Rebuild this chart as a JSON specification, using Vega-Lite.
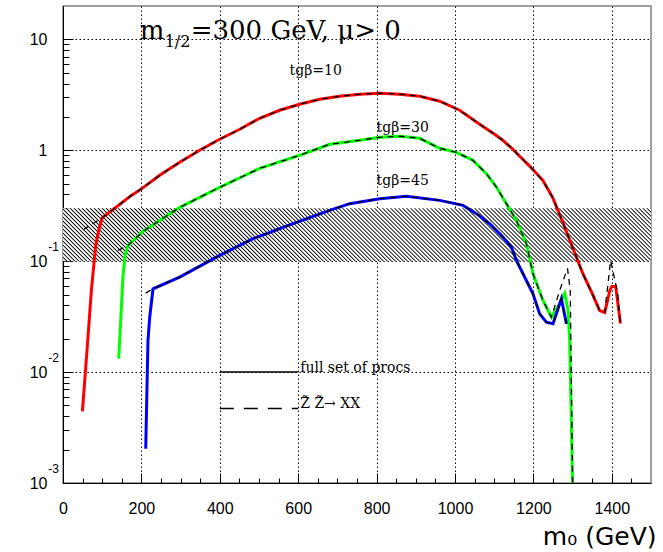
{
"$schema":"https://vega.github.io/schema/vega-lite/v6.json",
"width":588,"height":477,
"autosize":{"type":"none"},
"padding":{"left":63,"top":6,"right":12,"bottom":69},
"background":"white",
"config":{"view":{"stroke":"#808080","strokeWidth":1.5},"axis":{"labelColor":"#000","tickColor":"#000","domainColor":"#000"}},
"resolve":{"axis":{"x":"independent","y":"independent"}},
"datasets":{
"full":[
{"tb":"10","m0":49.5,"v":0.00443},{"tb":"10","m0":61.2,"v":0.0156},{"tb":"10","m0":72.4,"v":0.0545},{"tb":"10","m0":83.4,"v":0.139},{"tb":"10","m0":91.1,"v":0.19},{"tb":"10","m0":100,"v":0.246},{"tb":"10","m0":131.9,"v":0.3},{"tb":"10","m0":174.5,"v":0.392},{"tb":"10","m0":200.8,"v":0.451},{"tb":"10","m0":246.7,"v":0.595},{"tb":"10","m0":297.7,"v":0.779},{"tb":"10","m0":348.7,"v":1.0},{"tb":"10","m0":399.7,"v":1.257},{"tb":"10","m0":450.8,"v":1.547},{"tb":"10","m0":501.8,"v":1.945},{"tb":"10","m0":552.8,"v":2.297},{"tb":"10","m0":603.8,"v":2.602},{"tb":"10","m0":654.8,"v":2.887},{"tb":"10","m0":705.9,"v":3.073},{"tb":"10","m0":756.9,"v":3.204},{"tb":"10","m0":807.9,"v":3.271},{"tb":"10","m0":858.9,"v":3.204},{"tb":"10","m0":909.9,"v":3.073},{"tb":"10","m0":961,"v":2.77},{"tb":"10","m0":1012,"v":2.297},{"tb":"10","m0":1063,"v":1.717},{"tb":"10","m0":1101,"v":1.395},{"tb":"10","m0":1122,"v":1.231},{"tb":"10","m0":1145,"v":1.042},{"tb":"10","m0":1165,"v":0.883},{"tb":"10","m0":1191,"v":0.717},{"tb":"10","m0":1224,"v":0.536},{"tb":"10","m0":1249,"v":0.376},{"tb":"10","m0":1275,"v":0.224},{"tb":"10","m0":1300,"v":0.133},{"tb":"10","m0":1326,"v":0.0775},{"tb":"10","m0":1351,"v":0.0501},{"tb":"10","m0":1369,"v":0.0359},{"tb":"10","m0":1382,"v":0.0345},{"tb":"10","m0":1395,"v":0.0544},{"tb":"10","m0":1400,"v":0.0592},{"tb":"10","m0":1410,"v":0.0592},{"tb":"10","m0":1422,"v":0.0274},
{"tb":"30","m0":142.1,"v":0.01324},{"tb":"30","m0":153.1,"v":0.0743},{"tb":"30","m0":158.7,"v":0.1151},{"tb":"30","m0":165.8,"v":0.1387},{"tb":"30","m0":204.1,"v":0.1856},{"tb":"30","m0":246.7,"v":0.2333},{"tb":"30","m0":297.7,"v":0.3057},{"tb":"30","m0":399.7,"v":0.4634},{"tb":"30","m0":501.8,"v":0.6878},{"tb":"30","m0":603.8,"v":0.9012},{"tb":"30","m0":680.4,"v":1.133},{"tb":"30","m0":756.9,"v":1.231},{"tb":"30","m0":807.9,"v":1.31},{"tb":"30","m0":858.9,"v":1.338},{"tb":"30","m0":909.9,"v":1.283},{"tb":"30","m0":961,"v":1.042},{"tb":"30","m0":1003.6,"v":0.959},{"tb":"30","m0":1045.9,"v":0.812},{"tb":"30","m0":1080.1,"v":0.616},{"tb":"30","m0":1105.6,"v":0.466},{"tb":"30","m0":1131.1,"v":0.33},{"tb":"30","m0":1156.6,"v":0.233},{"tb":"30","m0":1182.1,"v":0.1437},{"tb":"30","m0":1199,"v":0.077},{"tb":"30","m0":1224.5,"v":0.0442},{"tb":"30","m0":1245.9,"v":0.03125},{"tb":"30","m0":1267.1,"v":0.04155},{"tb":"30","m0":1279.8,"v":0.05115},{"tb":"30","m0":1288.3,"v":0.0359},{"tb":"30","m0":1292.6,"v":0.01925},{"tb":"30","m0":1300.3,"v":0.00085},
{"tb":"45","m0":211,"v":0.00204},{"tb":"45","m0":216.8,"v":0.01925},{"tb":"45","m0":221.2,"v":0.03125},{"tb":"45","m0":229.6,"v":0.0564},{"tb":"45","m0":297.7,"v":0.0718},{"tb":"45","m0":391.3,"v":0.1088},{"tb":"45","m0":484.7,"v":0.1595},{"tb":"45","m0":586.7,"v":0.2178},{"tb":"45","m0":680.4,"v":0.2872},{"tb":"45","m0":731.4,"v":0.3302},{"tb":"45","m0":807.9,"v":0.3664},{"tb":"45","m0":876,"v":0.3844},{"tb":"45","m0":961,"v":0.3536},{"tb":"45","m0":1020.4,"v":0.3187},{"tb":"45","m0":1054.6,"v":0.2683},{"tb":"45","m0":1088.5,"v":0.2178},{"tb":"45","m0":1122.4,"v":0.1649},{"tb":"45","m0":1143.9,"v":0.1339},{"tb":"45","m0":1156.6,"v":0.1016},{"tb":"45","m0":1173.5,"v":0.077},{"tb":"45","m0":1199,"v":0.0508},{"tb":"45","m0":1216,"v":0.0335},{"tb":"45","m0":1233.2,"v":0.02817},{"tb":"45","m0":1250,"v":0.02724},{"tb":"45","m0":1271.4,"v":0.0458},{"tb":"45","m0":1284.2,"v":0.02724}
],
"zz":[
{"tb":"10","m0":51,"v":0.192},{"tb":"10","m0":100,"v":0.246},{"tb":"10","m0":131.9,"v":0.3},{"tb":"10","m0":174.5,"v":0.392},{"tb":"10","m0":200.8,"v":0.451},{"tb":"10","m0":246.7,"v":0.595},{"tb":"10","m0":297.7,"v":0.779},{"tb":"10","m0":348.7,"v":1.0},{"tb":"10","m0":399.7,"v":1.257},{"tb":"10","m0":450.8,"v":1.547},{"tb":"10","m0":501.8,"v":1.945},{"tb":"10","m0":552.8,"v":2.297},{"tb":"10","m0":603.8,"v":2.602},{"tb":"10","m0":654.8,"v":2.887},{"tb":"10","m0":705.9,"v":3.073},{"tb":"10","m0":756.9,"v":3.204},{"tb":"10","m0":807.9,"v":3.271},{"tb":"10","m0":858.9,"v":3.204},{"tb":"10","m0":909.9,"v":3.073},{"tb":"10","m0":961,"v":2.77},{"tb":"10","m0":1012,"v":2.297},{"tb":"10","m0":1063,"v":1.717},{"tb":"10","m0":1101,"v":1.395},{"tb":"10","m0":1122,"v":1.231},{"tb":"10","m0":1145,"v":1.042},{"tb":"10","m0":1165,"v":0.883},{"tb":"10","m0":1191,"v":0.717},{"tb":"10","m0":1224,"v":0.536},{"tb":"10","m0":1249,"v":0.376},{"tb":"10","m0":1275,"v":0.224},{"tb":"10","m0":1300,"v":0.133},{"tb":"10","m0":1326,"v":0.0775},{"tb":"10","m0":1351,"v":0.0501},{"tb":"10","m0":1369,"v":0.0359},{"tb":"10","m0":1382,"v":0.0345},{"tb":"10","m0":1397,"v":0.1016},{"tb":"10","m0":1415,"v":0.0511},{"tb":"10","m0":1422,"v":0.0274},
{"tb":"30","m0":140.3,"v":0.125},{"tb":"30","m0":165.8,"v":0.1387},{"tb":"30","m0":204.1,"v":0.1856},{"tb":"30","m0":246.7,"v":0.2333},{"tb":"30","m0":297.7,"v":0.3057},{"tb":"30","m0":399.7,"v":0.4634},{"tb":"30","m0":501.8,"v":0.6878},{"tb":"30","m0":603.8,"v":0.9012},{"tb":"30","m0":680.4,"v":1.133},{"tb":"30","m0":756.9,"v":1.231},{"tb":"30","m0":807.9,"v":1.31},{"tb":"30","m0":858.9,"v":1.338},{"tb":"30","m0":909.9,"v":1.283},{"tb":"30","m0":961,"v":1.042},{"tb":"30","m0":1003.6,"v":0.959},{"tb":"30","m0":1045.9,"v":0.812},{"tb":"30","m0":1080.1,"v":0.616},{"tb":"30","m0":1105.6,"v":0.466},{"tb":"30","m0":1131.1,"v":0.33},{"tb":"30","m0":1156.6,"v":0.233},{"tb":"30","m0":1182.1,"v":0.1437},{"tb":"30","m0":1199,"v":0.077},{"tb":"30","m0":1224.5,"v":0.0442},{"tb":"30","m0":1245.9,"v":0.03125},{"tb":"30","m0":1267,"v":0.0544},{"tb":"30","m0":1287,"v":0.086},{"tb":"30","m0":1294,"v":0.055},{"tb":"30","m0":1300.3,"v":0.00085},
{"tb":"45","m0":211,"v":0.0515},{"tb":"45","m0":229.6,"v":0.0564},{"tb":"45","m0":297.7,"v":0.0718},{"tb":"45","m0":391.3,"v":0.1088},{"tb":"45","m0":484.7,"v":0.1595},{"tb":"45","m0":586.7,"v":0.2178},{"tb":"45","m0":680.4,"v":0.2872},{"tb":"45","m0":731.4,"v":0.3302},{"tb":"45","m0":807.9,"v":0.3664},{"tb":"45","m0":876,"v":0.3844},{"tb":"45","m0":961,"v":0.3536},{"tb":"45","m0":1020.4,"v":0.3187},{"tb":"45","m0":1054.6,"v":0.2683},{"tb":"45","m0":1088.5,"v":0.2178},{"tb":"45","m0":1122.4,"v":0.1649},{"tb":"45","m0":1143.9,"v":0.1339},{"tb":"45","m0":1156.6,"v":0.1016},{"tb":"45","m0":1173.5,"v":0.077},{"tb":"45","m0":1199,"v":0.0508},{"tb":"45","m0":1216,"v":0.0335},{"tb":"45","m0":1233.2,"v":0.02817},{"tb":"45","m0":1250,"v":0.02724},{"tb":"45","m0":1271.4,"v":0.0458},{"tb":"45","m0":1284.2,"v":0.02724}
]},
"layer":[
{"data":{"values":[{"x0":0,"x1":1500,"lo":0.1,"hi":0.3}]},
 "mark":{"type":"rect","filled":true,"fill":{"gradient":"linear","x1":0,"y1":1,"x2":1.0813,"y2":0.9027,"stops":[
{"offset":0,"color":"#000"},{"offset":0.002,"color":"#fff"},{"offset":0.00425,"color":"#fff"},{"offset":0.00625,"color":"#000"},{"offset":0.00825,"color":"#fff"},{"offset":0.0105,"color":"#fff"},{"offset":0.0125,"color":"#000"},{"offset":0.0145,"color":"#fff"},{"offset":0.01675,"color":"#fff"},{"offset":0.01875,"color":"#000"},{"offset":0.02075,"color":"#fff"},{"offset":0.023,"color":"#fff"},{"offset":0.025,"color":"#000"},{"offset":0.027,"color":"#fff"},{"offset":0.02925,"color":"#fff"},{"offset":0.03125,"color":"#000"},{"offset":0.03325,"color":"#fff"},{"offset":0.0355,"color":"#fff"},{"offset":0.0375,"color":"#000"},{"offset":0.0395,"color":"#fff"},{"offset":0.04175,"color":"#fff"},{"offset":0.04375,"color":"#000"},{"offset":0.04575,"color":"#fff"},{"offset":0.048,"color":"#fff"},
{"offset":0.05,"color":"#000"},{"offset":0.052,"color":"#fff"},{"offset":0.05425,"color":"#fff"},{"offset":0.05625,"color":"#000"},{"offset":0.05825,"color":"#fff"},{"offset":0.0605,"color":"#fff"},{"offset":0.0625,"color":"#000"},{"offset":0.0645,"color":"#fff"},{"offset":0.06675,"color":"#fff"},{"offset":0.06875,"color":"#000"},{"offset":0.07075,"color":"#fff"},{"offset":0.073,"color":"#fff"},{"offset":0.075,"color":"#000"},{"offset":0.077,"color":"#fff"},{"offset":0.07925,"color":"#fff"},{"offset":0.08125,"color":"#000"},{"offset":0.08325,"color":"#fff"},{"offset":0.0855,"color":"#fff"},{"offset":0.0875,"color":"#000"},{"offset":0.0895,"color":"#fff"},{"offset":0.09175,"color":"#fff"},{"offset":0.09375,"color":"#000"},{"offset":0.09575,"color":"#fff"},{"offset":0.098,"color":"#fff"},
{"offset":0.1,"color":"#000"},{"offset":0.102,"color":"#fff"},{"offset":0.10425,"color":"#fff"},{"offset":0.10625,"color":"#000"},{"offset":0.10825,"color":"#fff"},{"offset":0.1105,"color":"#fff"},{"offset":0.1125,"color":"#000"},{"offset":0.1145,"color":"#fff"},{"offset":0.11675,"color":"#fff"},{"offset":0.11875,"color":"#000"},{"offset":0.12075,"color":"#fff"},{"offset":0.123,"color":"#fff"},{"offset":0.125,"color":"#000"},{"offset":0.127,"color":"#fff"},{"offset":0.12925,"color":"#fff"},{"offset":0.13125,"color":"#000"},{"offset":0.13325,"color":"#fff"},{"offset":0.1355,"color":"#fff"},{"offset":0.1375,"color":"#000"},{"offset":0.1395,"color":"#fff"},{"offset":0.14175,"color":"#fff"},{"offset":0.14375,"color":"#000"},{"offset":0.14575,"color":"#fff"},{"offset":0.148,"color":"#fff"},
{"offset":0.15,"color":"#000"},{"offset":0.152,"color":"#fff"},{"offset":0.15425,"color":"#fff"},{"offset":0.15625,"color":"#000"},{"offset":0.15825,"color":"#fff"},{"offset":0.1605,"color":"#fff"},{"offset":0.1625,"color":"#000"},{"offset":0.1645,"color":"#fff"},{"offset":0.16675,"color":"#fff"},{"offset":0.16875,"color":"#000"},{"offset":0.17075,"color":"#fff"},{"offset":0.173,"color":"#fff"},{"offset":0.175,"color":"#000"},{"offset":0.177,"color":"#fff"},{"offset":0.17925,"color":"#fff"},{"offset":0.18125,"color":"#000"},{"offset":0.18325,"color":"#fff"},{"offset":0.1855,"color":"#fff"},{"offset":0.1875,"color":"#000"},{"offset":0.1895,"color":"#fff"},{"offset":0.19175,"color":"#fff"},{"offset":0.19375,"color":"#000"},{"offset":0.19575,"color":"#fff"},{"offset":0.198,"color":"#fff"},
{"offset":0.2,"color":"#000"},{"offset":0.202,"color":"#fff"},{"offset":0.20425,"color":"#fff"},{"offset":0.20625,"color":"#000"},{"offset":0.20825,"color":"#fff"},{"offset":0.2105,"color":"#fff"},{"offset":0.2125,"color":"#000"},{"offset":0.2145,"color":"#fff"},{"offset":0.21675,"color":"#fff"},{"offset":0.21875,"color":"#000"},{"offset":0.22075,"color":"#fff"},{"offset":0.223,"color":"#fff"},{"offset":0.225,"color":"#000"},{"offset":0.227,"color":"#fff"},{"offset":0.22925,"color":"#fff"},{"offset":0.23125,"color":"#000"},{"offset":0.23325,"color":"#fff"},{"offset":0.2355,"color":"#fff"},{"offset":0.2375,"color":"#000"},{"offset":0.2395,"color":"#fff"},{"offset":0.24175,"color":"#fff"},{"offset":0.24375,"color":"#000"},{"offset":0.24575,"color":"#fff"},{"offset":0.248,"color":"#fff"},
{"offset":0.25,"color":"#000"},{"offset":0.252,"color":"#fff"},{"offset":0.25425,"color":"#fff"},{"offset":0.25625,"color":"#000"},{"offset":0.25825,"color":"#fff"},{"offset":0.2605,"color":"#fff"},{"offset":0.2625,"color":"#000"},{"offset":0.2645,"color":"#fff"},{"offset":0.26675,"color":"#fff"},{"offset":0.26875,"color":"#000"},{"offset":0.27075,"color":"#fff"},{"offset":0.273,"color":"#fff"},{"offset":0.275,"color":"#000"},{"offset":0.277,"color":"#fff"},{"offset":0.27925,"color":"#fff"},{"offset":0.28125,"color":"#000"},{"offset":0.28325,"color":"#fff"},{"offset":0.2855,"color":"#fff"},{"offset":0.2875,"color":"#000"},{"offset":0.2895,"color":"#fff"},{"offset":0.29175,"color":"#fff"},{"offset":0.29375,"color":"#000"},{"offset":0.29575,"color":"#fff"},{"offset":0.298,"color":"#fff"},
{"offset":0.3,"color":"#000"},{"offset":0.302,"color":"#fff"},{"offset":0.30425,"color":"#fff"},{"offset":0.30625,"color":"#000"},{"offset":0.30825,"color":"#fff"},{"offset":0.3105,"color":"#fff"},{"offset":0.3125,"color":"#000"},{"offset":0.3145,"color":"#fff"},{"offset":0.31675,"color":"#fff"},{"offset":0.31875,"color":"#000"},{"offset":0.32075,"color":"#fff"},{"offset":0.323,"color":"#fff"},{"offset":0.325,"color":"#000"},{"offset":0.327,"color":"#fff"},{"offset":0.32925,"color":"#fff"},{"offset":0.33125,"color":"#000"},{"offset":0.33325,"color":"#fff"},{"offset":0.3355,"color":"#fff"},{"offset":0.3375,"color":"#000"},{"offset":0.3395,"color":"#fff"},{"offset":0.34175,"color":"#fff"},{"offset":0.34375,"color":"#000"},{"offset":0.34575,"color":"#fff"},{"offset":0.348,"color":"#fff"},
{"offset":0.35,"color":"#000"},{"offset":0.352,"color":"#fff"},{"offset":0.35425,"color":"#fff"},{"offset":0.35625,"color":"#000"},{"offset":0.35825,"color":"#fff"},{"offset":0.3605,"color":"#fff"},{"offset":0.3625,"color":"#000"},{"offset":0.3645,"color":"#fff"},{"offset":0.36675,"color":"#fff"},{"offset":0.36875,"color":"#000"},{"offset":0.37075,"color":"#fff"},{"offset":0.373,"color":"#fff"},{"offset":0.375,"color":"#000"},{"offset":0.377,"color":"#fff"},{"offset":0.37925,"color":"#fff"},{"offset":0.38125,"color":"#000"},{"offset":0.38325,"color":"#fff"},{"offset":0.3855,"color":"#fff"},{"offset":0.3875,"color":"#000"},{"offset":0.3895,"color":"#fff"},{"offset":0.39175,"color":"#fff"},{"offset":0.39375,"color":"#000"},{"offset":0.39575,"color":"#fff"},{"offset":0.398,"color":"#fff"},
{"offset":0.4,"color":"#000"},{"offset":0.402,"color":"#fff"},{"offset":0.40425,"color":"#fff"},{"offset":0.40625,"color":"#000"},{"offset":0.40825,"color":"#fff"},{"offset":0.4105,"color":"#fff"},{"offset":0.4125,"color":"#000"},{"offset":0.4145,"color":"#fff"},{"offset":0.41675,"color":"#fff"},{"offset":0.41875,"color":"#000"},{"offset":0.42075,"color":"#fff"},{"offset":0.423,"color":"#fff"},{"offset":0.425,"color":"#000"},{"offset":0.427,"color":"#fff"},{"offset":0.42925,"color":"#fff"},{"offset":0.43125,"color":"#000"},{"offset":0.43325,"color":"#fff"},{"offset":0.4355,"color":"#fff"},{"offset":0.4375,"color":"#000"},{"offset":0.4395,"color":"#fff"},{"offset":0.44175,"color":"#fff"},{"offset":0.44375,"color":"#000"},{"offset":0.44575,"color":"#fff"},{"offset":0.448,"color":"#fff"},
{"offset":0.45,"color":"#000"},{"offset":0.452,"color":"#fff"},{"offset":0.45425,"color":"#fff"},{"offset":0.45625,"color":"#000"},{"offset":0.45825,"color":"#fff"},{"offset":0.4605,"color":"#fff"},{"offset":0.4625,"color":"#000"},{"offset":0.4645,"color":"#fff"},{"offset":0.46675,"color":"#fff"},{"offset":0.46875,"color":"#000"},{"offset":0.47075,"color":"#fff"},{"offset":0.473,"color":"#fff"},{"offset":0.475,"color":"#000"},{"offset":0.477,"color":"#fff"},{"offset":0.47925,"color":"#fff"},{"offset":0.48125,"color":"#000"},{"offset":0.48325,"color":"#fff"},{"offset":0.4855,"color":"#fff"},{"offset":0.4875,"color":"#000"},{"offset":0.4895,"color":"#fff"},{"offset":0.49175,"color":"#fff"},{"offset":0.49375,"color":"#000"},{"offset":0.49575,"color":"#fff"},{"offset":0.498,"color":"#fff"},
{"offset":0.5,"color":"#000"},{"offset":0.502,"color":"#fff"},{"offset":0.50425,"color":"#fff"},{"offset":0.50625,"color":"#000"},{"offset":0.50825,"color":"#fff"},{"offset":0.5105,"color":"#fff"},{"offset":0.5125,"color":"#000"},{"offset":0.5145,"color":"#fff"},{"offset":0.51675,"color":"#fff"},{"offset":0.51875,"color":"#000"},{"offset":0.52075,"color":"#fff"},{"offset":0.523,"color":"#fff"},{"offset":0.525,"color":"#000"},{"offset":0.527,"color":"#fff"},{"offset":0.52925,"color":"#fff"},{"offset":0.53125,"color":"#000"},{"offset":0.53325,"color":"#fff"},{"offset":0.5355,"color":"#fff"},{"offset":0.5375,"color":"#000"},{"offset":0.5395,"color":"#fff"},{"offset":0.54175,"color":"#fff"},{"offset":0.54375,"color":"#000"},{"offset":0.54575,"color":"#fff"},{"offset":0.548,"color":"#fff"},
{"offset":0.55,"color":"#000"},{"offset":0.552,"color":"#fff"},{"offset":0.55425,"color":"#fff"},{"offset":0.55625,"color":"#000"},{"offset":0.55825,"color":"#fff"},{"offset":0.5605,"color":"#fff"},{"offset":0.5625,"color":"#000"},{"offset":0.5645,"color":"#fff"},{"offset":0.56675,"color":"#fff"},{"offset":0.56875,"color":"#000"},{"offset":0.57075,"color":"#fff"},{"offset":0.573,"color":"#fff"},{"offset":0.575,"color":"#000"},{"offset":0.577,"color":"#fff"},{"offset":0.57925,"color":"#fff"},{"offset":0.58125,"color":"#000"},{"offset":0.58325,"color":"#fff"},{"offset":0.5855,"color":"#fff"},{"offset":0.5875,"color":"#000"},{"offset":0.5895,"color":"#fff"},{"offset":0.59175,"color":"#fff"},{"offset":0.59375,"color":"#000"},{"offset":0.59575,"color":"#fff"},{"offset":0.598,"color":"#fff"},
{"offset":0.6,"color":"#000"},{"offset":0.602,"color":"#fff"},{"offset":0.60425,"color":"#fff"},{"offset":0.60625,"color":"#000"},{"offset":0.60825,"color":"#fff"},{"offset":0.6105,"color":"#fff"},{"offset":0.6125,"color":"#000"},{"offset":0.6145,"color":"#fff"},{"offset":0.61675,"color":"#fff"},{"offset":0.61875,"color":"#000"},{"offset":0.62075,"color":"#fff"},{"offset":0.623,"color":"#fff"},{"offset":0.625,"color":"#000"},{"offset":0.627,"color":"#fff"},{"offset":0.62925,"color":"#fff"},{"offset":0.63125,"color":"#000"},{"offset":0.63325,"color":"#fff"},{"offset":0.6355,"color":"#fff"},{"offset":0.6375,"color":"#000"},{"offset":0.6395,"color":"#fff"},{"offset":0.64175,"color":"#fff"},{"offset":0.64375,"color":"#000"},{"offset":0.64575,"color":"#fff"},{"offset":0.648,"color":"#fff"},
{"offset":0.65,"color":"#000"},{"offset":0.652,"color":"#fff"},{"offset":0.65425,"color":"#fff"},{"offset":0.65625,"color":"#000"},{"offset":0.65825,"color":"#fff"},{"offset":0.6605,"color":"#fff"},{"offset":0.6625,"color":"#000"},{"offset":0.6645,"color":"#fff"},{"offset":0.66675,"color":"#fff"},{"offset":0.66875,"color":"#000"},{"offset":0.67075,"color":"#fff"},{"offset":0.673,"color":"#fff"},{"offset":0.675,"color":"#000"},{"offset":0.677,"color":"#fff"},{"offset":0.67925,"color":"#fff"},{"offset":0.68125,"color":"#000"},{"offset":0.68325,"color":"#fff"},{"offset":0.6855,"color":"#fff"},{"offset":0.6875,"color":"#000"},{"offset":0.6895,"color":"#fff"},{"offset":0.69175,"color":"#fff"},{"offset":0.69375,"color":"#000"},{"offset":0.69575,"color":"#fff"},{"offset":0.698,"color":"#fff"},
{"offset":0.7,"color":"#000"},{"offset":0.702,"color":"#fff"},{"offset":0.70425,"color":"#fff"},{"offset":0.70625,"color":"#000"},{"offset":0.70825,"color":"#fff"},{"offset":0.7105,"color":"#fff"},{"offset":0.7125,"color":"#000"},{"offset":0.7145,"color":"#fff"},{"offset":0.71675,"color":"#fff"},{"offset":0.71875,"color":"#000"},{"offset":0.72075,"color":"#fff"},{"offset":0.723,"color":"#fff"},{"offset":0.725,"color":"#000"},{"offset":0.727,"color":"#fff"},{"offset":0.72925,"color":"#fff"},{"offset":0.73125,"color":"#000"},{"offset":0.73325,"color":"#fff"},{"offset":0.7355,"color":"#fff"},{"offset":0.7375,"color":"#000"},{"offset":0.7395,"color":"#fff"},{"offset":0.74175,"color":"#fff"},{"offset":0.74375,"color":"#000"},{"offset":0.74575,"color":"#fff"},{"offset":0.748,"color":"#fff"},
{"offset":0.75,"color":"#000"},{"offset":0.752,"color":"#fff"},{"offset":0.75425,"color":"#fff"},{"offset":0.75625,"color":"#000"},{"offset":0.75825,"color":"#fff"},{"offset":0.7605,"color":"#fff"},{"offset":0.7625,"color":"#000"},{"offset":0.7645,"color":"#fff"},{"offset":0.76675,"color":"#fff"},{"offset":0.76875,"color":"#000"},{"offset":0.77075,"color":"#fff"},{"offset":0.773,"color":"#fff"},{"offset":0.775,"color":"#000"},{"offset":0.777,"color":"#fff"},{"offset":0.77925,"color":"#fff"},{"offset":0.78125,"color":"#000"},{"offset":0.78325,"color":"#fff"},{"offset":0.7855,"color":"#fff"},{"offset":0.7875,"color":"#000"},{"offset":0.7895,"color":"#fff"},{"offset":0.79175,"color":"#fff"},{"offset":0.79375,"color":"#000"},{"offset":0.79575,"color":"#fff"},{"offset":0.798,"color":"#fff"},
{"offset":0.8,"color":"#000"},{"offset":0.802,"color":"#fff"},{"offset":0.80425,"color":"#fff"},{"offset":0.80625,"color":"#000"},{"offset":0.80825,"color":"#fff"},{"offset":0.8105,"color":"#fff"},{"offset":0.8125,"color":"#000"},{"offset":0.8145,"color":"#fff"},{"offset":0.81675,"color":"#fff"},{"offset":0.81875,"color":"#000"},{"offset":0.82075,"color":"#fff"},{"offset":0.823,"color":"#fff"},{"offset":0.825,"color":"#000"},{"offset":0.827,"color":"#fff"},{"offset":0.82925,"color":"#fff"},{"offset":0.83125,"color":"#000"},{"offset":0.83325,"color":"#fff"},{"offset":0.8355,"color":"#fff"},{"offset":0.8375,"color":"#000"},{"offset":0.8395,"color":"#fff"},{"offset":0.84175,"color":"#fff"},{"offset":0.84375,"color":"#000"},{"offset":0.84575,"color":"#fff"},{"offset":0.848,"color":"#fff"},
{"offset":0.85,"color":"#000"},{"offset":0.852,"color":"#fff"},{"offset":0.85425,"color":"#fff"},{"offset":0.85625,"color":"#000"},{"offset":0.85825,"color":"#fff"},{"offset":0.8605,"color":"#fff"},{"offset":0.8625,"color":"#000"},{"offset":0.8645,"color":"#fff"},{"offset":0.86675,"color":"#fff"},{"offset":0.86875,"color":"#000"},{"offset":0.87075,"color":"#fff"},{"offset":0.873,"color":"#fff"},{"offset":0.875,"color":"#000"},{"offset":0.877,"color":"#fff"},{"offset":0.87925,"color":"#fff"},{"offset":0.88125,"color":"#000"},{"offset":0.88325,"color":"#fff"},{"offset":0.8855,"color":"#fff"},{"offset":0.8875,"color":"#000"},{"offset":0.8895,"color":"#fff"},{"offset":0.89175,"color":"#fff"},{"offset":0.89375,"color":"#000"},{"offset":0.89575,"color":"#fff"},{"offset":0.898,"color":"#fff"},
{"offset":0.9,"color":"#000"},{"offset":0.902,"color":"#fff"},{"offset":0.90425,"color":"#fff"},{"offset":0.90625,"color":"#000"},{"offset":0.90825,"color":"#fff"},{"offset":0.9105,"color":"#fff"},{"offset":0.9125,"color":"#000"},{"offset":0.9145,"color":"#fff"},{"offset":0.91675,"color":"#fff"},{"offset":0.91875,"color":"#000"},{"offset":0.92075,"color":"#fff"},{"offset":0.923,"color":"#fff"},{"offset":0.925,"color":"#000"},{"offset":0.927,"color":"#fff"},{"offset":0.92925,"color":"#fff"},{"offset":0.93125,"color":"#000"},{"offset":0.93325,"color":"#fff"},{"offset":0.9355,"color":"#fff"},{"offset":0.9375,"color":"#000"},{"offset":0.9395,"color":"#fff"},{"offset":0.94175,"color":"#fff"},{"offset":0.94375,"color":"#000"},{"offset":0.94575,"color":"#fff"},{"offset":0.948,"color":"#fff"},
{"offset":0.95,"color":"#000"},{"offset":0.952,"color":"#fff"},{"offset":0.95425,"color":"#fff"},{"offset":0.95625,"color":"#000"},{"offset":0.95825,"color":"#fff"},{"offset":0.9605,"color":"#fff"},{"offset":0.9625,"color":"#000"},{"offset":0.9645,"color":"#fff"},{"offset":0.96675,"color":"#fff"},{"offset":0.96875,"color":"#000"},{"offset":0.97075,"color":"#fff"},{"offset":0.973,"color":"#fff"},{"offset":0.975,"color":"#000"},{"offset":0.977,"color":"#fff"},{"offset":0.97925,"color":"#fff"},{"offset":0.98125,"color":"#000"},{"offset":0.98325,"color":"#fff"},{"offset":0.9855,"color":"#fff"},{"offset":0.9875,"color":"#000"},{"offset":0.9895,"color":"#fff"},{"offset":0.99175,"color":"#fff"},{"offset":0.99375,"color":"#000"},{"offset":0.99575,"color":"#fff"},{"offset":0.998,"color":"#fff"},
{"offset":1,"color":"#000"}]}},
 "encoding":{
  "x":{"field":"x0","type":"quantitative","scale":{"domain":[0,1500],"nice":false,"zero":false},
       "axis":{"orient":"bottom","values":[0,200,400,600,800,1000,1200,1400],"format":"d","grid":true,"gridColor":"#000","gridDash":[1.5,2.5],"gridWidth":1,"ticks":false,"domain":true,"domainWidth":1,"labelFont":"Liberation Sans","labelFontSize":16,"labelPadding":17,"labelFlush":false,"labelOverlap":false,"title":"m₀ (GeV)","titleFont":"DejaVu Sans","titleFontSize":25,"titleFontWeight":"normal","titleColor":"#000","titleX":593,"titleAlign":"right","titleBaseline":"alphabetic","titleY":61}},
  "x2":{"field":"x1"},
  "y":{"field":"lo","type":"quantitative","scale":{"type":"log","domain":[0.001,20],"nice":false},
       "axis":{"orient":"left","values":[0.001,0.01,0.1,1,10],"grid":true,"gridColor":"#000","gridDash":[1.5,2.5],"gridWidth":1,"ticks":false,"domain":true,"domainWidth":1,"labelExpr":"datum.value < 0.5 ? '10\u00a0\u00a0' : (datum.value < 5 ? '1' : '10')","labelFont":"Liberation Sans","labelFontSize":16,"labelPadding":16,"labelFlush":false,"labelOverlap":false,"title":null}},
  "y2":{"field":"hi"}}},
{"data":{"name":"full"},
 "mark":{"type":"line","strokeWidth":3,"clip":true},
 "encoding":{
  "x":{"field":"m0","type":"quantitative","axis":{"orient":"bottom","values":[0,200,400,600,800,1000,1200,1400],"tickSize":-10,"tickWidth":1,"labels":false,"domain":false,"grid":false,"title":null}},
  "y":{"field":"v","type":"quantitative","axis":{"orient":"left","values":[0.001,0.01,0.1,1,10],"tickSize":-10,"tickWidth":1,"labels":false,"domain":false,"grid":false,"title":null}},
  "color":{"field":"tb","type":"nominal","scale":{"domain":["10","30","45"],"range":["#ff0000","#00ff00","#0000ff"]},"legend":null}}},
{"data":{"name":"zz"},
 "mark":{"type":"line","color":"#000","strokeWidth":1.3,"strokeDash":[6,5],"clip":true},
 "encoding":{
  "x":{"field":"m0","type":"quantitative","axis":{"orient":"bottom","values":[50,100,150,250,300,350,450,500,550,650,700,750,850,900,950,1050,1100,1150,1250,1300,1350,1450],"tickSize":-5,"tickWidth":1,"labels":false,"domain":false,"grid":false,"title":null}},
  "y":{"field":"v","type":"quantitative","axis":{"orient":"left","values":[0.002,0.003,0.004,0.005,0.006,0.007,0.008,0.009,0.02,0.03,0.04,0.05,0.06,0.07,0.08,0.09,0.2,0.3,0.4,0.5,0.6,0.7,0.8,0.9,2,3,4,5,6,7,8,9],"tickSize":-6,"tickWidth":1,"labels":false,"domain":false,"grid":false,"title":null}},
  "detail":{"field":"tb"}}},
{"data":{"values":[{"a":400,"b":600,"v":0.01}]},
 "mark":{"type":"rule","color":"#000","strokeWidth":1.5},
 "encoding":{"x":{"field":"a","type":"quantitative","axis":null},"x2":{"field":"b"},"y":{"field":"v","type":"quantitative","axis":null}}},
{"data":{"values":[{"a":400,"b":600,"v":0.0047}]},
 "mark":{"type":"rule","color":"#000","strokeWidth":1.5,"strokeDash":[14,10]},
 "encoding":{"x":{"field":"a","type":"quantitative","axis":null},"x2":{"field":"b"},"y":{"field":"v","type":"quantitative","axis":null}}},
{"data":{"values":[{"m0":600,"v":0.01,"label":"full set of procs"},{"m0":600,"v":0.0047,"label":"Z̃ Z̃→ XX"}]},
 "mark":{"type":"text","align":"left","baseline":"alphabetic","dx":2,"font":"DejaVu Serif","fontSize":14,"color":"#000"},
 "encoding":{"x":{"field":"m0","type":"quantitative","axis":null},"y":{"field":"v","type":"quantitative","axis":null},"text":{"field":"label"}}},
{"data":{"values":[{"m0":578,"v":4.75,"label":"tgβ=10"},{"m0":800,"v":1.454,"label":"tgβ=30"},{"m0":800,"v":0.483,"label":"tgβ=45"}]},
 "mark":{"type":"text","align":"left","baseline":"alphabetic","font":"DejaVu Serif","fontSize":14,"color":"#000"},
 "encoding":{"x":{"field":"m0","type":"quantitative","axis":null},"y":{"field":"v","type":"quantitative","axis":null},"text":{"field":"label"}}},
{"data":{"values":[{"m0":195.7,"v":10,"label":"m"}]},
 "mark":{"type":"text","align":"left","baseline":"alphabetic","font":"DejaVu Serif","fontSize":26,"color":"#000"},
 "encoding":{"x":{"field":"m0","type":"quantitative","axis":null},"y":{"field":"v","type":"quantitative","axis":null},"text":{"field":"label"}}},
{"data":{"values":[{"m0":259.4,"v":8.51,"label":"1/2"}]},
 "mark":{"type":"text","align":"left","baseline":"alphabetic","font":"DejaVu Serif","fontSize":16,"color":"#000"},
 "encoding":{"x":{"field":"m0","type":"quantitative","axis":null},"y":{"field":"v","type":"quantitative","axis":null},"text":{"field":"label"}}},
{"data":{"values":[{"m0":325.8,"v":10,"label":"=300 GeV, μ> 0"}]},
 "mark":{"type":"text","align":"left","baseline":"alphabetic","font":"DejaVu Serif","fontSize":26,"color":"#000"},
 "encoding":{"x":{"field":"m0","type":"quantitative","axis":null},"y":{"field":"v","type":"quantitative","axis":null},"text":{"field":"label"}}},
{"data":{"values":[{"m0":0,"v":0.1,"label":"-1"},{"m0":0,"v":0.01,"label":"-2"},{"m0":0,"v":0.001,"label":"-3"}]},
 "mark":{"type":"text","align":"right","baseline":"middle","dx":-4,"dy":-14,"font":"Liberation Sans","fontSize":12,"color":"#000"},
 "encoding":{"x":{"field":"m0","type":"quantitative","axis":null},"y":{"field":"v","type":"quantitative","axis":null},"text":{"field":"label"}}}
]
}
